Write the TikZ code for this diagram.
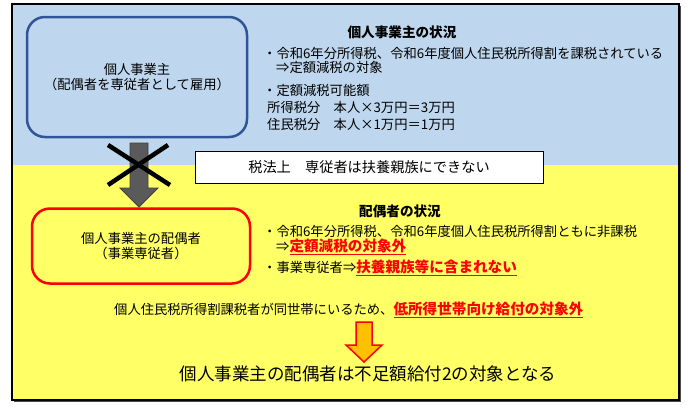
\documentclass[tikz,border=0pt]{standalone}
\usepackage{fontspec}
\setmainfont{Noto Sans CJK JP}
\usetikzlibrary{positioning}
\definecolor{ownerBg}{RGB}{190,215,238}
\definecolor{spouseBg}{RGB}{255,255,102}
\definecolor{ownerLine}{RGB}{47,85,151}
\definecolor{flowGray}{RGB}{90,90,90}
\definecolor{giftOrange}{RGB}{255,192,0}
\newcommand{\redmark}[1]{\textcolor{red}{\fontsize{14.6}{15}\selectfont\underline{\textbf{#1}}}}

\begin{document}
\begin{tikzpicture}[x=1pt,y=-1pt,
  every node/.style={inner sep=0pt},
  bodytext/.style={anchor=west, font=\fontsize{13.3}{15}\selectfont},
  headtext/.style={font=\fontsize{13.6}{15}\selectfont\bfseries},
  personbox/.style={rounded corners=18pt, line width=2.5pt, align=center,
    font=\fontsize{13.3}{15}\selectfont},
  flowarrow/.style={fill=flowGray, draw=black!75, line width=0.8pt, line join=miter},
  giftarrow/.style={fill=giftOrange, draw=red, line width=1.5pt, line join=miter}]
\useasboundingbox (0,0) rectangle (690,407);

% Frame with shadow and the two bands
\fill[black!70] (14,6) rectangle (681,402);
\fill[ownerBg] (12,4) rectangle (679,165);
\fill[spouseBg] (12,165) rectangle (679,400);
\draw[line width=2pt] (12,4) rectangle (679,400);

% Upper band: business owner
\node[personbox, draw=ownerLine, fill=ownerBg, minimum width=220pt, minimum height=120pt]
  (owner) at (137,77) {個人事業主\\（配偶者を専従者として雇用）};
\node[headtext] (ownerhead) at (402,32) {個人事業主の状況};
\node[bodytext] (ownerA) at (263,53) {・令和6年分所得税、令和6年度個人住民税所得割を課税されている};
\node[bodytext] (ownerB) at (276,67) {⇒定額減税の対象};
\node[bodytext] (ownerC) at (263,90) {・定額減税可能額};
\node[bodytext] (ownerD) at (267,107) {所得税分　本人×3万円＝3万円};
\node[bodytext] (ownerE) at (267,124) {住民税分　本人×1万円＝1万円};

% Crossed-out arrow and rule box
\draw[flowarrow] (130,143) -- (148,143) -- (148,188) -- (158,188) -- (139,207)
  -- (120,188) -- (130,188) -- cycle;
\draw[line width=4.5pt] (108,145) -- (170,185);
\draw[line width=4.5pt] (168,145) -- (108,185);
\node[draw, fill=white, line width=1pt, minimum width=348pt, minimum height=32pt,
  font=\fontsize{14.2}{16}\selectfont] (taxrule) at (369,167) {税法上　専従者は扶養親族にできない};

% Lower band: spouse
\node[personbox, draw=red, fill=spouseBg, minimum width=218pt, minimum height=75pt]
  (spouse) at (141,246) {個人事業主の配偶者\\（事業専従者）};
\node[headtext] (spousehead) at (400,211) {配偶者の状況};
\node[bodytext] (spouseA) at (263,231) {・令和6年分所得税、令和6年度個人住民税所得割ともに非課税};
\node[bodytext] (spouseB) at (276,247) {⇒\redmark{定額減税の対象外}};
\node[bodytext] (spouseC) at (263,268) {・事業専従者⇒\redmark{扶養親族等に含まれない}};
\node[bodytext] (household) at (114,310)
  {個人住民税所得割課税者が同世帯にいるため、\redmark{低所得世帯向け給付の対象外}};

% Conclusion
\draw[giftarrow] (356,322) -- (372,322) -- (372,345) -- (382,345) -- (364,362)
  -- (346,345) -- (356,345) -- cycle;
\node[font=\fontsize{17.5}{20}\selectfont] (result) at (368,374)
  {個人事業主の配偶者は不足額給付2の対象となる};
\end{tikzpicture}
\end{document}
